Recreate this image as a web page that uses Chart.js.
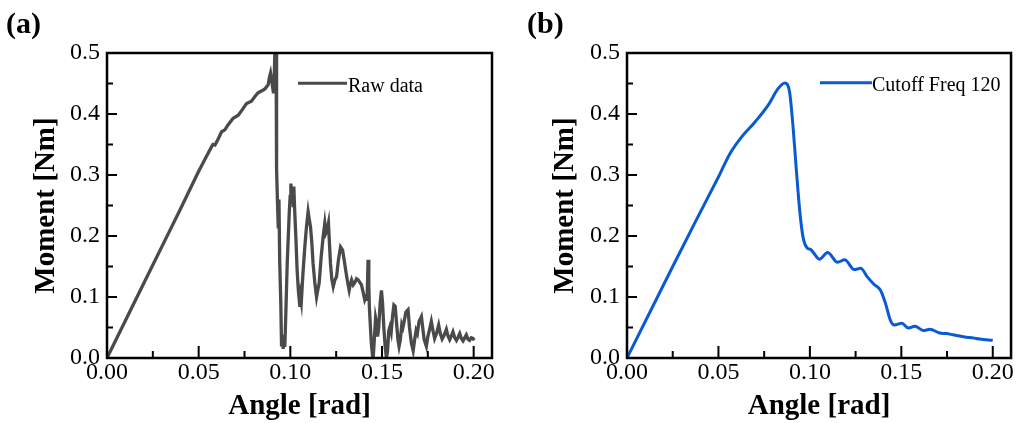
<!DOCTYPE html>
<html>
<head>
<meta charset="utf-8">
<script src="https://cdn.jsdelivr.net/npm/chart.js@4.4.0/dist/chart.umd.min.js"></script>
<style>
  body { margin: 0; background: #fff; }
  #fig { position: relative; width: 1017px; height: 423px; overflow: hidden; }
  canvas { position: absolute; top: 0; }
  .tag { position: absolute; top: 8px; font: bold 30px/30px 'Liberation Serif', 'Times New Roman', serif; color: #000; }
</style>
</head>
<body>
<div id="fig">
  <canvas id="chartA" width="508" height="423" style="left:0"></canvas>
  <canvas id="chartB" width="509" height="423" style="left:508px"></canvas>
  <div class="tag" style="left:6px">(a)</div>
  <div class="tag" style="left:527px">(b)</div>
</div>
<script>
// tick values
const xTicks = [0, 0.05, 0.10, 0.15, 0.20];
const xMinor = [0.025, 0.075, 0.125, 0.175];
const yTicks = [0, 0.1, 0.2, 0.3, 0.4, 0.5];
const yMinor = [0.05, 0.15, 0.25, 0.35, 0.45];

// (a) raw data
const rawAngle = [
  0, 0.010, 0.020, 0.030, 0.040, 0.0498, 0.0545, 0.0570, 0.0578, 0.0589,
  0.0605, 0.0625, 0.0643, 0.0660, 0.0688, 0.0716, 0.0740, 0.0761, 0.0788, 0.0810,
  0.0825, 0.0845, 0.0861, 0.0879, 0.0886, 0.0892, 0.0898, 0.0903, 0.0908, 0.0913,
  0.0917, 0.0922, 0.0925, 0.0930, 0.0934, 0.0938, 0.0942, 0.0948, 0.0952, 0.0957,
  0.0961, 0.0966, 0.0970, 0.0977, 0.0983, 0.0989, 0.0994, 0.0999, 0.1003, 0.1008,
  0.1012, 0.1016, 0.1019, 0.1024, 0.1030, 0.1037, 0.1044, 0.1052, 0.1056, 0.1060,
  0.1068, 0.1079, 0.1088, 0.1097, 0.1103, 0.1110, 0.1117, 0.1124, 0.1133, 0.1143,
  0.1150, 0.1157, 0.1168, 0.1179, 0.1188, 0.1194, 0.1201, 0.1208, 0.1213, 0.1219,
  0.1226, 0.1234, 0.1243, 0.1252, 0.1262, 0.1274, 0.1285, 0.1293, 0.1302, 0.1312,
  0.1321, 0.1328, 0.1334, 0.1343, 0.1352, 0.1361, 0.1370, 0.1379, 0.1388, 0.1397,
  0.1406, 0.1413, 0.1419, 0.1424, 0.1428, 0.1431, 0.1437, 0.1442, 0.1448, 0.1452,
  0.1458, 0.1465, 0.1470, 0.1476, 0.1482, 0.1490, 0.1497, 0.1503, 0.1510, 0.1517,
  0.1524, 0.1530, 0.1537, 0.1543, 0.1550, 0.1558, 0.1565, 0.1572, 0.1580, 0.1587,
  0.1593, 0.1600, 0.1608, 0.1614, 0.1621, 0.1630, 0.1642, 0.1650, 0.1660, 0.1670,
  0.1678, 0.1686, 0.1693, 0.1702, 0.1715, 0.1722, 0.1730, 0.1742, 0.1750, 0.1758,
  0.1769, 0.1778, 0.1787, 0.1797, 0.1809, 0.1818, 0.1828, 0.1840, 0.1851, 0.1860,
  0.1869, 0.1878, 0.1887, 0.1896, 0.1906, 0.1915, 0.1924, 0.1933, 0.1942, 0.1951,
  0.1960, 0.1969, 0.1978, 0.1987, 0.1996, 0.2003
];
const rawMoment = [
  0, 0.061, 0.122, 0.183, 0.244, 0.305, 0.332, 0.346, 0.350, 0.349,
  0.358, 0.371, 0.374, 0.382, 0.393, 0.398, 0.408, 0.417, 0.421, 0.430,
  0.435, 0.438, 0.441, 0.448, 0.460, 0.467, 0.455, 0.445, 0.434, 0.470,
  0.520, 0.520, 0.310, 0.254, 0.215, 0.260, 0.160, 0.090, 0.019, 0.035,
  0.015, 0.038, 0.018, 0.090, 0.155, 0.200, 0.237, 0.265, 0.286, 0.262,
  0.273, 0.250, 0.281, 0.240, 0.199, 0.144, 0.110, 0.084, 0.100, 0.092,
  0.135, 0.182, 0.215, 0.240, 0.228, 0.215, 0.190, 0.155, 0.125, 0.100,
  0.112, 0.122, 0.165, 0.199, 0.221, 0.205, 0.210, 0.221, 0.190, 0.155,
  0.130, 0.117, 0.128, 0.133, 0.160, 0.182, 0.177, 0.162, 0.144, 0.125,
  0.111, 0.122, 0.128, 0.120, 0.124, 0.130, 0.128, 0.124, 0.120, 0.108,
  0.095, 0.100, 0.098, 0.161, 0.120, 0.084, 0.050, 0.024, 0.004, 0.000,
  0.030, 0.066, 0.058, 0.035, 0.050, 0.090, 0.111, 0.090, 0.050, 0.020,
  0.000, 0.010, 0.045, 0.051, 0.042, 0.070, 0.087, 0.085, 0.055, 0.030,
  0.019, 0.030, 0.055, 0.050, 0.060, 0.075, 0.079, 0.050, 0.025, 0.012,
  0.030, 0.045, 0.040, 0.060, 0.068, 0.050, 0.030, 0.019, 0.035, 0.045,
  0.060, 0.045, 0.032, 0.040, 0.054, 0.040, 0.031, 0.038, 0.047, 0.036,
  0.030, 0.036, 0.043, 0.034, 0.029, 0.034, 0.040, 0.032, 0.028, 0.033,
  0.038, 0.031, 0.029, 0.033, 0.032, 0.029
];

// (b) filtered data
const filtAngle = [
  0, 0.0125, 0.025, 0.0375, 0.0502, 0.0565, 0.0628, 0.0700, 0.0773, 0.0827,
  0.0863, 0.0876, 0.0890, 0.0908, 0.0926, 0.0944, 0.0962, 0.0986, 0.1003, 0.1016,
  0.1052, 0.1097, 0.1151, 0.1191, 0.1242, 0.1278, 0.1314, 0.1350, 0.1386, 0.1413,
  0.1440, 0.1461, 0.1503, 0.1539, 0.1575, 0.1620, 0.1656, 0.1710, 0.1747, 0.1783,
  0.1820, 0.1856, 0.1892, 0.1928, 0.2000
];
const filtMoment = [
  0, 0.075, 0.150, 0.224, 0.298, 0.336, 0.363, 0.387, 0.415, 0.442,
  0.451, 0.449, 0.434, 0.379, 0.308, 0.243, 0.199, 0.180, 0.178, 0.174,
  0.162, 0.173, 0.157, 0.161, 0.145, 0.147, 0.133, 0.121, 0.111, 0.090,
  0.062, 0.054, 0.057, 0.049, 0.052, 0.045, 0.047, 0.041, 0.040, 0.038,
  0.036, 0.034, 0.033, 0.031, 0.029
];

const serif = "'Liberation Serif', 'Times New Roman', serif";

// inward ticks and the box round the plot
const frameTicks = {
  id: 'frameTicks',
  afterDatasetsDraw(chart) {
    const { ctx, chartArea: a, scales: { x, y } } = chart;
    ctx.save();
    ctx.strokeStyle = '#000';
    ctx.lineWidth = 2;
    ctx.beginPath();
    xTicks.forEach(v => { const p = x.getPixelForValue(v); ctx.moveTo(p, a.bottom); ctx.lineTo(p, a.bottom - 12); });
    xMinor.forEach(v => { const p = x.getPixelForValue(v); ctx.moveTo(p, a.bottom); ctx.lineTo(p, a.bottom - 7); });
    yTicks.forEach(v => { const p = y.getPixelForValue(v); ctx.moveTo(a.left, p); ctx.lineTo(a.left + 10, p); });
    yMinor.forEach(v => { const p = y.getPixelForValue(v); ctx.moveTo(a.left, p); ctx.lineTo(a.left + 6, p); });
    ctx.stroke();
    ctx.lineWidth = 2.5;
    ctx.strokeRect(a.left, a.top, a.right - a.left, a.bottom - a.top);
    ctx.restore();
  }
};

// legend sitting inside the plot, top right
const cornerLegend = {
  id: 'cornerLegend',
  afterDraw(chart, args, opts) {
    const { ctx, chartArea: a } = chart;
    const ds = chart.data.datasets[0];
    const y = a.top + opts.dy;
    ctx.save();
    ctx.strokeStyle = ds.borderColor;
    ctx.lineWidth = 3;
    ctx.beginPath();
    ctx.moveTo(a.left + opts.x0, y);
    ctx.lineTo(a.left + opts.x1, y);
    ctx.stroke();
    ctx.fillStyle = '#000';
    ctx.font = '20px ' + serif;
    ctx.textBaseline = 'alphabetic';
    ctx.fillText(ds.label, a.left + opts.tx, y + 8.5);
    ctx.restore();
  }
};

function makeChart(id, angle, moment, label, color, monotone, lineW, yWidth, yTitlePad, rightPad, leg) {
  const points = angle.map((a, i) => ({ x: a, y: moment[i] }));
  return new Chart(document.getElementById(id), {
    type: 'scatter',
    data: {
      datasets: [{
        label: label,
        data: points,
        showLine: true,
        borderColor: color,
        borderWidth: lineW,
        pointRadius: 0,
        tension: monotone ? 0.4 : 0,
        cubicInterpolationMode: monotone ? 'monotone' : 'default'
      }]
    },
    options: {
      responsive: false,
      animation: false,
      events: [],
      layout: { padding: { left: 0, right: rightPad, top: 53, bottom: 0 } },
      plugins: {
        legend: { display: false },
        tooltip: { enabled: false },
        cornerLegend: leg
      },
      scales: {
        x: {
          type: 'linear',
          min: 0,
          max: 0.21,
          afterBuildTicks: s => { s.ticks = xTicks.map(v => ({ value: v })); },
          afterFit: s => { s.height = 65; },
          grid: { display: false, drawTicks: false },
          border: { display: false },
          ticks: {
            callback: v => v.toFixed(2),
            color: '#000',
            padding: 3,
            maxRotation: 0,
            autoSkip: false,
            font: { family: serif, size: 24, lineHeight: 1 }
          },
          title: {
            display: true,
            text: 'Angle [rad]',
            color: '#000',
            padding: { top: 0, bottom: 1.5 },
            font: { family: serif, size: 29, weight: 'bold', lineHeight: 1 }
          }
        },
        y: {
          type: 'linear',
          min: 0,
          max: 0.5,
          afterBuildTicks: s => { s.ticks = yTicks.map(v => ({ value: v })); },
          afterFit: s => { s.width = yWidth; },
          grid: { display: false, drawTicks: false },
          border: { display: false },
          ticks: {
            callback: v => v.toFixed(1),
            color: '#000',
            padding: 7,
            autoSkip: false,
            font: { family: serif, size: 24, lineHeight: 1 }
          },
          title: {
            display: true,
            text: 'Moment [Nm]',
            color: '#000',
            padding: { top: yTitlePad, bottom: 0 },
            font: { family: serif, size: 29, weight: 'bold', lineHeight: 1 }
          }
        }
      }
    },
    plugins: [frameTicks, cornerLegend]
  });
}

makeChart('chartA', rawAngle, rawMoment, 'Raw data', '#4a4a4a', false, 3.3, 107, 32, 16,
  { x0: 191, x1: 240, tx: 241, dy: 30.3 });
makeChart('chartB', filtAngle, filtMoment, 'Cutoff Freq 120', '#0a5ad4', true, 3, 119, 43.5, 5,
  { x0: 193, x1: 245, tx: 245, dy: 29.7 });
</script>
</body>
</html>
